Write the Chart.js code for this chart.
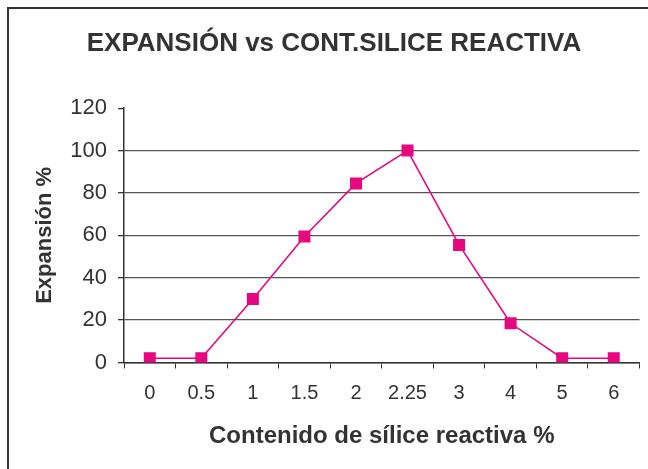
<!DOCTYPE html>
<html lang="es">
<head>
    <meta charset="UTF-8">
    <title>Expansión vs contenido de sílice reactiva</title>
    <script src="https://cdn.jsdelivr.net/npm/chart.js"></script>
    <style>
        html, body { margin: 0; padding: 0; background: #fff; }
        #wrap { position: relative; width: 648px; height: 469px; }
    </style>
</head>
<body>
    <div id="wrap"><canvas id="grafico"></canvas></div>

    <script>
        // Datos
        const categorias = ['0', '0.5', '1', '1.5', '2', '2.25', '3', '4', '5', '6'];
        const expansion = [2, 2, 30, 59.5, 84.5, 100, 55.5, 18.5, 2, 2];
        const ticksY = [0, 20, 40, 60, 80, 100, 120];

        const rosa = '#E5087F';
        const oscuro = '#333333';

        // Marco del recuadro (línea superior e izquierda)
        const marco = {
            id: 'marco',
            beforeDraw(chart) {
                const c = chart.ctx;
                c.save();
                c.strokeStyle = oscuro;
                c.lineWidth = 2;
                c.beginPath();
                c.moveTo(8, chart.height);
                c.lineTo(8, 8);
                c.lineTo(chart.width, 8);
                c.stroke();
                c.restore();
            }
        };

        const ctx = document.getElementById('grafico').getContext('2d');
        new Chart(ctx, {
            type: 'line',
            data: {
                labels: categorias,
                datasets: [{
                    label: 'Expansión %',
                    data: expansion,
                    borderColor: rosa,
                    backgroundColor: rosa,
                    borderWidth: 1.6,
                    pointStyle: 'rect',
                    pointRadius: 8.5,
                    pointHoverRadius: 8.5,
                    pointBorderWidth: 0,
                    tension: 0
                }]
            },
            options: {
                responsive: true,
                maintainAspectRatio: false,
                animation: false,
                layout: { padding: { left: 28, right: 8, top: 0, bottom: 0 } },
                plugins: {
                    legend: { display: false },
                    tooltip: { enabled: false },
                    title: {
                        display: true,
                        text: 'EXPANSIÓN vs CONT.SILICE REACTIVA',
                        color: oscuro,
                        font: { family: 'Liberation Sans, Arial, sans-serif', size: 26, weight: 'bold' },
                        padding: { top: 28, bottom: 49 }
                    }
                },
                scales: {
                    x: {
                        offset: true,
                        afterFit: s => { s.height = 106.5; },
                        grid: {
                            offset: true,
                            drawOnChartArea: false,
                            tickLength: 6,
                            tickColor: oscuro
                        },
                        border: { color: oscuro, width: 1.5 },
                        ticks: {
                            color: oscuro,
                            padding: 13,
                            maxRotation: 0,
                            font: { family: 'Liberation Sans, Arial, sans-serif', size: 20 }
                        },
                        title: {
                            display: true,
                            text: 'Contenido de sílice reactiva %',
                            color: oscuro,
                            padding: { top: 0, bottom: 18 },
                            font: { family: 'Liberation Sans, Arial, sans-serif', size: 24, weight: 'bold' }
                        }
                    },
                    y: {
                        min: 0,
                        max: 120,
                        afterFit: s => { s.width = 96; },
                        afterBuildTicks: s => { s.ticks = ticksY.map(v => ({ value: v })); },
                        grid: {
                            color: c => (c.tick && c.tick.value === 120 ? 'rgba(0,0,0,0)' : '#555555'),
                            lineWidth: 1.3,
                            tickLength: 6,
                            tickColor: oscuro
                        },
                        border: { color: oscuro, width: 1.5 },
                        ticks: {
                            color: oscuro,
                            padding: 11,
                            font: { family: 'Liberation Sans, Arial, sans-serif', size: 22 }
                        },
                        title: {
                            display: true,
                            text: 'Expansión %',
                            color: oscuro,
                            padding: { top: 4, bottom: 0 },
                            font: { family: 'Liberation Sans, Arial, sans-serif', size: 22, weight: 'bold' }
                        }
                    }
                }
            },
            plugins: [marco]
        });
    </script>
</body>
</html>
